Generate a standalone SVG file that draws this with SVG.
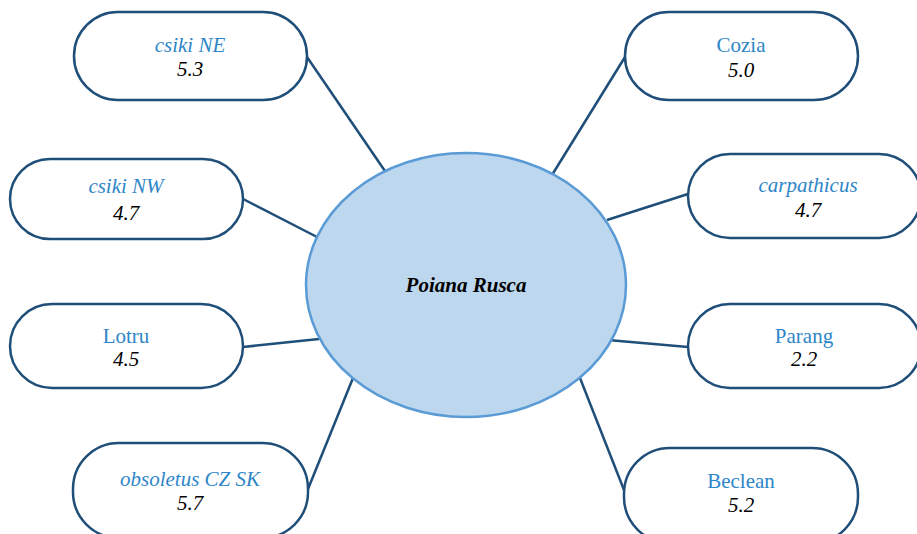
<svg xmlns="http://www.w3.org/2000/svg" width="917" height="534" viewBox="0 0 917 534">
<style>
.box{fill:#ffffff;stroke:#1f4e79;stroke-width:2.5}
.lbl{font-family:"Liberation Serif","Times New Roman",serif;font-size:21px;fill:#2e86c8;text-anchor:middle}
.num{font-family:"Liberation Serif","Times New Roman",serif;font-size:21px;font-style:italic;fill:#000;text-anchor:middle}
.it{font-style:italic}
.conn line{stroke:#1f4e79;stroke-width:2.5}
</style>
<rect width="917" height="534" fill="#ffffff"/>
<g id="connectors" class="conn">
<line x1="307" y1="57" x2="387" y2="174"/>
<line x1="625" y1="57" x2="552" y2="175"/>
<line x1="243" y1="199" x2="319" y2="238"/>
<line x1="688" y1="194" x2="607" y2="220"/>
<line x1="243" y1="347" x2="319" y2="339"/>
<line x1="688" y1="347" x2="608" y2="340"/>
<line x1="308" y1="489" x2="353" y2="378"/>
<line x1="624" y1="490" x2="580" y2="378"/>
</g>
<g id="center">
<ellipse cx="466" cy="285" rx="160" ry="132" fill="#bdd7ee" stroke="#5b9bd5" stroke-width="2.5"/>
<text x="466" y="292" font-family="Liberation Serif,'Times New Roman',serif" font-size="21" font-weight="bold" font-style="italic" text-anchor="middle" fill="#000">Poiana Rusca</text>
</g>
<g id="csiki-ne">
<rect class="box" x="74" y="12" width="233" height="88" rx="44"/>
<text class="lbl it" x="190" y="52">csiki NE</text>
<text class="num" x="190" y="76">5.3</text>
</g>
<g id="cozia">
<rect class="box" x="625" y="12" width="233" height="88" rx="44"/>
<text class="lbl" x="741" y="52">Cozia</text>
<text class="num" x="741" y="77">5.0</text>
</g>
<g id="csiki-nw">
<rect class="box" x="10" y="159" width="233" height="80" rx="40"/>
<text class="lbl it" x="126" y="193">csiki NW</text>
<text class="num" x="126" y="220">4.7</text>
</g>
<g id="carpathicus">
<rect class="box" x="688" y="154" width="233" height="84" rx="42"/>
<text class="lbl it" x="808" y="192">carpathicus</text>
<text class="num" x="808" y="217">4.7</text>
</g>
<g id="lotru">
<rect class="box" x="10" y="304" width="233" height="84" rx="42"/>
<text class="lbl" x="126" y="343">Lotru</text>
<text class="num" x="126" y="366">4.5</text>
</g>
<g id="parang">
<rect class="box" x="688" y="304" width="233" height="84" rx="42"/>
<text class="lbl" x="804" y="343">Parang</text>
<text class="num" x="804" y="366">2.2</text>
</g>
<g id="obsoletus">
<rect class="box" x="73" y="443" width="235" height="95" rx="46"/>
<text class="lbl it" x="190" y="486">obsoletus CZ SK</text>
<text class="num" x="190" y="510">5.7</text>
</g>
<g id="beclean">
<rect class="box" x="624" y="448" width="234" height="95" rx="46"/>
<text class="lbl" x="741" y="488">Beclean</text>
<text class="num" x="741" y="512">5.2</text>
</g>
</svg>
